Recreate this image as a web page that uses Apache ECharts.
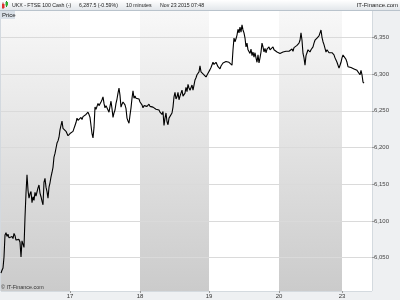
<!DOCTYPE html>
<html><head><meta charset="utf-8">
<script src="https://cdn.jsdelivr.net/npm/echarts@6/dist/echarts.min.js"></script>
<style>html,body{margin:0;padding:0;background:#eef0f2}#c{width:400px;height:300px}</style>
</head><body><div id="c"></div>
<script>
// 10-minute FTSE 100 cash prices, one array per trading day
const day16 = [6029,6033,6036,6051,6081,6084,6079,6082,6077,6078,6075,6079,6076,6083,6080,6074,6076,6072,6075,6071,
  6051,6073,6071,6064,6105,6138,6163,6142,6131,6137,6140,6125,6133,6128,6139,6134,6133,6145,6149,6138,
  6133,6127,6122,6153,6158,6146,6140,6131,6146,6152,6160,6166,6173,6187,6192,6199,6206,6209,6214,6224,
  6230,6236,6226,6224,6225,6222,6221,6216,6217];
const day17 = [6219,6220,6218,6222,6226,6230,6234,6240,6237,6236,6239,6241,6238,6242,6244,6240,6245,6247,6248,6245,
  6241,6230,6219,6213,6227,6255,6252,6254,6260,6257,6255,6262,6265,6269,6260,6254,6257,6255,6251,6248,
  6256,6263,6253,6241,6247,6251,6260,6266,6274,6281,6271,6255,6259,6262,6260,6258,6253,6240,6236,6233,
  6244,6254,6267,6277,6267,6270,6267,6265,6268,6266];
const day18 = [6262,6263,6258,6254,6257,6259,6257,6256,6258,6259,6256,6257,6255,6255,6253,6254,6252,6252,6250,6251,
  6248,6247,6245,6249,6230,6240,6247,6235,6231,6240,6238,6241,6247,6255,6269,6275,6266,6269,6275,6265,
  6270,6274,6278,6270,6272,6274,6282,6276,6286,6281,6278,6276,6285,6278,6285,6292,6295,6299,6301,6303,
  6311,6303,6301,6301,6299,6297,6296,6295,6301];
const day19 = [6303,6306,6309,6311,6316,6313,6312,6316,6315,6310,6308,6307,6311,6312,6315,6313,6316,6317,6315,6318,
  6316,6315,6318,6312,6333,6349,6344,6348,6353,6361,6356,6364,6357,6367,6360,6356,6349,6337,6342,6333,
  6335,6328,6334,6325,6330,6323,6329,6322,6316,6326,6315,6322,6330,6342,6337,6330,6335,6329,6334,6332,
  6337,6333,6335,6334,6337,6333,6335,6332,6330,6329];
const day20 = [6328,6328,6330,6329,6330,6328,6329,6331,6330,6332,6331,6333,6332,6334,6331,6336,6337,6338,6339,6338,
  6342,6346,6356,6346,6328,6322,6312,6325,6329,6333,6331,6330,6333,6334,6337,6342,6346,6347,6349,6350,
  6352,6353,6360,6350,6344,6340,6335,6330,6333,6331,6329,6330,6328,6329,6328,6326,6322,6319,6316,6314,
  6308,6312,6316];
const day23 = [6322,6326,6328,6325,6320,6316,6310,6308,6310,6309,6308,6309,6307,6307,6306,6305,6307,6303,6299,6305,
  6299,6289,6287.5];
const dayLabels = ['16','17','18','19','20','23'];
const yTicks = [6050,6100,6150,6200,6250,6300,6350];
const headerTexts = ['UKX - FTSE 100 Cash (-)','6,287.5 (-0.59%)','10 minutes','Nov 23 2015 07:48'];

const dayData = [day16, day17, day18, day19, day20, day23];
const SLOTS = 372;
const categories = [];
const values = [];
const starts = [];
dayData.forEach((arr, di) => {
  starts.push(categories.length);
  arr.forEach((v, k) => { categories.push(dayLabels[di] + '|' + k); values.push(v); });
});
for (let i = categories.length; i < SLOTS; i++) categories.push('pad|' + i);
const lastValue = values[values.length - 1];

const bandAreas = starts.map((s, i) => {
  const e = i + 1 < starts.length ? starts[i + 1] : SLOTS - 1;
  const grey = i % 2 === 0;
  return [{ xAxis: categories[s], itemStyle: { color: grey ?
      new echarts.graphic.LinearGradient(0, 0, 0, 1, [{offset: 0, color: '#f8f8f8'}, {offset: 1, color: '#cbcbcb'}]) : '#ffffff' } },
    { xAxis: categories[e] }];
});

const FONT = '"Liberation Sans", Arial, sans-serif';
const headerX = [12, 79, 126, 160];
const chart = echarts.init(document.getElementById('c'), null, {renderer: 'canvas'});
chart.setOption({
  animation: false,
  backgroundColor: '#eef0f2',
  grid: { left: 1, right: 28, top: 11, bottom: 9, show: true, backgroundColor: '#ffffff', borderColor: '#b9c3cc', borderWidth: 1 },
  xAxis: {
    type: 'category', data: categories, boundaryGap: false, z: 3,
    axisLine: { show: false },
    axisTick: { show: true, length: 2, lineStyle: { color: '#999' },
      interval: (i, v) => v.endsWith('|0') && !v.startsWith(dayLabels[0] + '|') },
    axisLabel: { fontSize: 6, color: '#333', fontFamily: FONT, margin: 2,
      interval: (i, v) => v.endsWith('|0') && !v.startsWith(dayLabels[0] + '|'),
      formatter: v => v.split('|')[0] },
    splitLine: { show: false }
  },
  yAxis: {
    type: 'value', position: 'right', min: 6004.7, max: 6385.8, z: 3,
    axisLine: { show: false },
    axisTick: { show: true, length: 2, lineStyle: { color: '#999' }, customValues: yTicks },
    axisLabel: { fontSize: 6, color: '#444', fontFamily: FONT, margin: 2, customValues: yTicks,
      formatter: v => Number(v).toLocaleString('en-US') },
    splitLine: { show: true, lineStyle: { color: '#dadada', width: 1 } }
  },
  series: [{
    type: 'line', data: values, z: 4, showSymbol: false, symbol: 'none',
    lineStyle: { color: '#000000', width: 1.1 },
    markArea: { silent: true, data: bandAreas },
    markLine: { silent: true, symbol: 'none', z: 6,
      lineStyle: { opacity: 0 },
      data: [{ yAxis: lastValue }],
      label: { position: 'end', distance: 1, fontSize: 6, fontFamily: FONT, color: '#333',
        backgroundColor: '#f0e000', padding: [1, 1, 0, 1],
        formatter: () => lastValue.toLocaleString('en-US', {minimumFractionDigits: 1}) } }
  }],
  graphic: [
    { type: 'rect', shape: { x: 0, y: 0, width: 400, height: 10 }, z: 10,
      style: { fill: new echarts.graphic.LinearGradient(0, 0, 0, 1, [{offset: 0, color: '#ffffff'}, {offset: 1, color: '#e3e7eb'}]) } },
    { type: 'line', shape: { x1: 0, y1: 10.5, x2: 400, y2: 10.5 }, z: 10, style: { stroke: '#b9c3cc', lineWidth: 1 } },
    { type: 'line', shape: { x1: 3, y1: 2.5, x2: 3, y2: 9 }, z: 10, style: { stroke: '#a33', lineWidth: 1 } },
    { type: 'rect', shape: { x: 2, y: 4, width: 2.5, height: 4 }, z: 11, style: { fill: '#e03030' } },
    { type: 'line', shape: { x1: 6.5, y1: 1, x2: 6.5, y2: 7 }, z: 10, style: { stroke: '#2a8a2a', lineWidth: 1 } },
    { type: 'rect', shape: { x: 5.5, y: 2, width: 2.5, height: 3.5 }, z: 11, style: { fill: '#30b030' } }
  ].concat(headerTexts.map((t, i) => ({
    type: 'text', x: headerX[i], y: 5.5, z: 11, scaleX: 0.87,
    style: { text: t, fontSize: 6, fontFamily: FONT, fill: '#1a1a1a', verticalAlign: 'middle' } }))).concat([
    { type: 'text', x: 398, y: 5.5, z: 11, style: { text: 'IT-Finance.com', fontSize: 6, fontFamily: FONT, fill: '#1a1a1a', align: 'right', verticalAlign: 'middle' } },
    { type: 'rect', shape: { x: 0, y: 11, width: 15, height: 8 }, z: 11, style: { fill: '#d9e0e7' } },
    { type: 'text', x: 2, y: 15, z: 12, style: { text: 'Price', fontSize: 6, fontFamily: FONT, fill: '#1a1a1a', verticalAlign: 'middle' } },
    { type: 'text', x: 1, y: 287, z: 12, scaleX: 0.9, style: { text: '\u00a9 IT-Finance.com', fontSize: 6, fontFamily: FONT, fill: '#333', verticalAlign: 'middle' } }
  ])
});
</script></body></html>
